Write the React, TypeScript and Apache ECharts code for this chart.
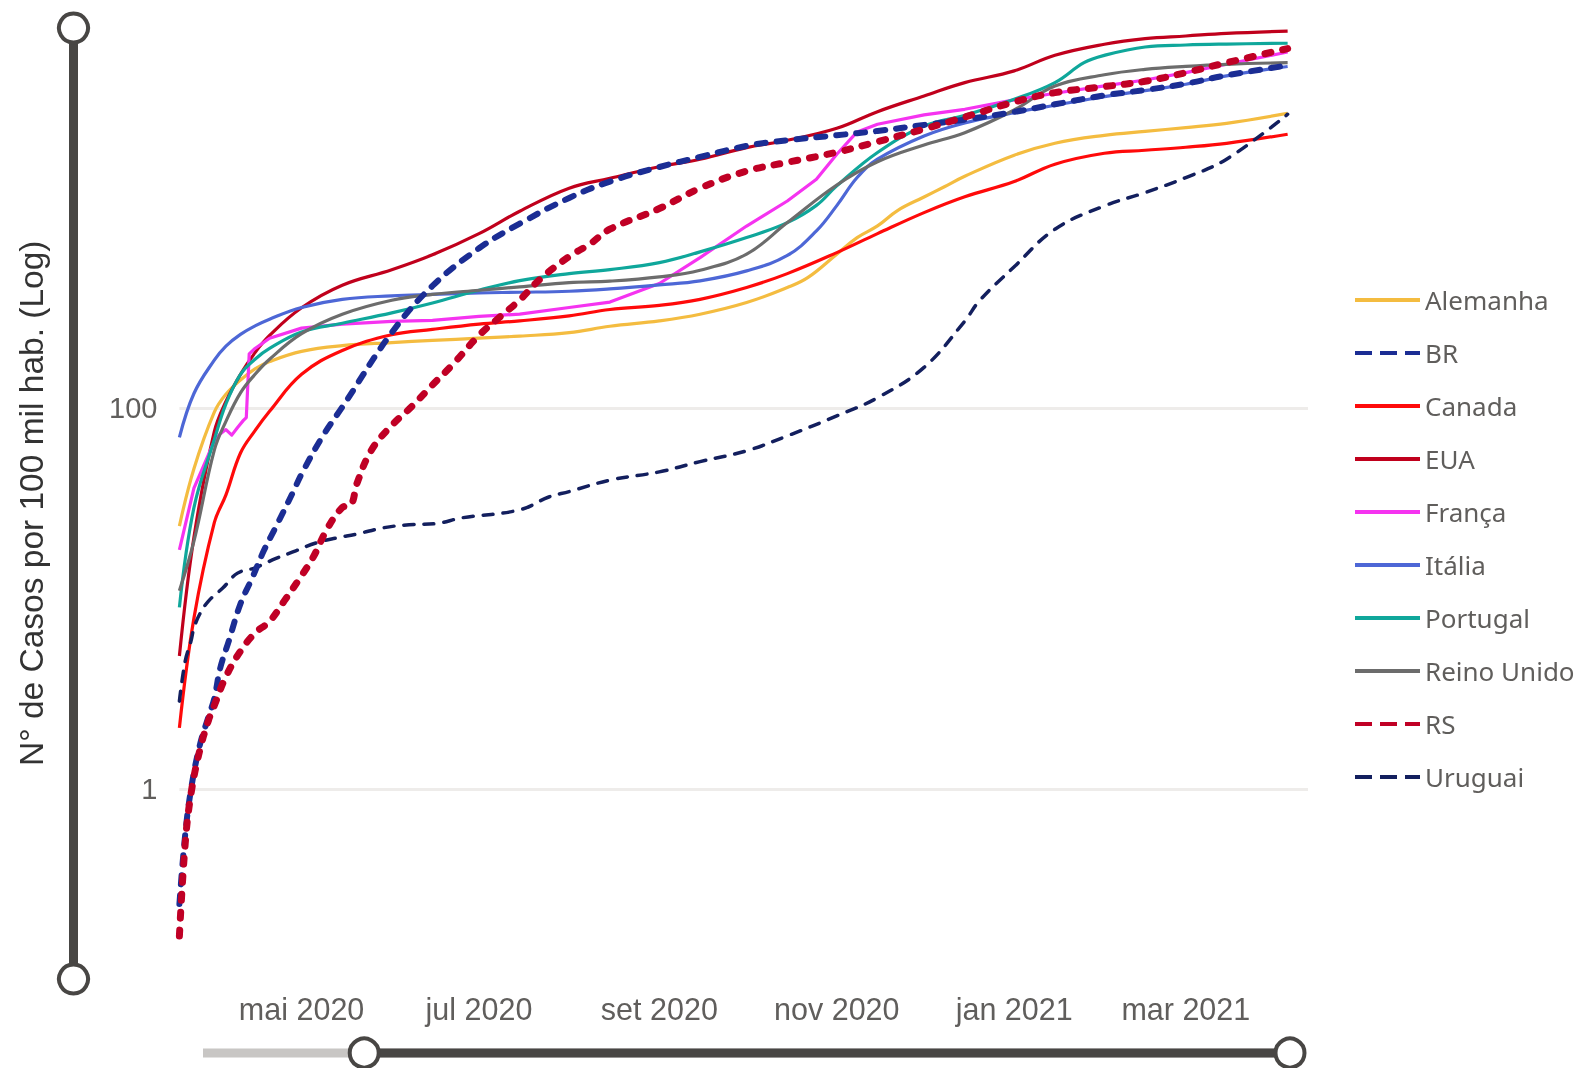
import React, { useEffect, useRef } from 'react';
import * as echarts from 'echarts';

const seriesNames = ['Alemanha', 'BR', 'Canada', 'EUA', 'França', 'Itália', 'Portugal', 'Reino Unido', 'RS', 'Uruguai'];
const monthLabels = ['jan', 'fev', 'mar', 'abr', 'mai', 'jun', 'jul', 'ago', 'set', 'out', 'nov', 'dez'];
const yTickLabels = [1, 100];
const yAxisTitle = 'N° de Casos por 100 mil hab. (Log)';

type P = [string, number];

const alemanha: P[] = [
  ['2020-03-20', 24], ['2020-03-25', 48], ['2020-04-01', 95], ['2020-04-05', 118], ['2020-04-10', 140],
  ['2020-04-15', 160], ['2020-04-20', 175], ['2020-05-01', 198], ['2020-05-15', 212], ['2020-06-01', 220],
  ['2020-06-15', 226], ['2020-07-01', 232], ['2020-07-15', 238], ['2020-08-01', 248], ['2020-08-15', 268],
  ['2020-09-01', 286], ['2020-09-15', 310], ['2020-10-01', 357], ['2020-10-15', 428], ['2020-10-22', 482],
  ['2020-11-01', 640], ['2020-11-08', 782], ['2020-11-15', 900], ['2020-11-22', 1087], ['2020-12-01', 1277],
  ['2020-12-08', 1445], ['2020-12-15', 1640], ['2021-01-01', 2114], ['2021-01-15', 2443], ['2021-02-01', 2687],
  ['2021-02-15', 2820], ['2021-03-01', 2950], ['2021-03-15', 3107], ['2021-04-05', 3508],
];

const br: P[] = [
  ['2020-03-20', 0.25], ['2020-03-22', 0.58], ['2020-03-24', 1.0], ['2020-03-27', 1.7], ['2020-03-30', 2.4],
  ['2020-04-01', 3.0], ['2020-04-03', 4.3], ['2020-04-06', 6.0], ['2020-04-10', 9.4], ['2020-04-14', 12.8],
  ['2020-04-18', 17.8], ['2020-04-22', 23.5], ['2020-04-28', 36], ['2020-05-01', 45], ['2020-05-08', 70],
  ['2020-05-15', 101], ['2020-06-01', 248], ['2020-06-15', 436], ['2020-07-01', 687], ['2020-07-15', 925],
  ['2020-08-01', 1262], ['2020-08-15', 1538], ['2020-09-01', 1833], ['2020-09-15', 2070], ['2020-10-01', 2366],
  ['2020-10-15', 2531], ['2020-11-01', 2690], ['2020-11-15', 2833], ['2020-12-01', 3046], ['2020-12-15', 3250],
  ['2021-01-01', 3565], ['2021-01-15', 3908], ['2021-02-01', 4355], ['2021-02-15', 4645], ['2021-03-01', 5015],
  ['2021-03-15', 5545], ['2021-04-05', 6250],
];

const canada: P[] = [
  ['2020-03-20', 2.1], ['2020-03-25', 7.9], ['2020-04-01', 25], ['2020-04-05', 35], ['2020-04-10', 58],
  ['2020-04-15', 76], ['2020-04-20', 96], ['2020-05-01', 150], ['2020-05-15', 200], ['2020-06-01', 242],
  ['2020-06-15', 258], ['2020-07-01', 275], ['2020-07-15', 286], ['2020-08-01', 304], ['2020-08-15', 328],
  ['2020-09-01', 345], ['2020-09-15', 371], ['2020-10-01', 428], ['2020-10-15', 506], ['2020-11-01', 652],
  ['2020-11-15', 820], ['2020-12-01', 1057], ['2020-12-15', 1280], ['2021-01-01', 1538], ['2021-01-15', 1897],
  ['2021-02-01', 2165], ['2021-02-15', 2244], ['2021-03-01', 2327], ['2021-03-15', 2440], ['2021-04-05', 2724],
];

const eua: P[] = [
  ['2020-03-20', 5], ['2020-03-25', 21], ['2020-04-01', 75], ['2020-04-05', 108], ['2020-04-10', 150],
  ['2020-04-15', 195], ['2020-04-20', 240], ['2020-05-01', 335], ['2020-05-15', 440], ['2020-06-01', 530],
  ['2020-06-15', 635], ['2020-07-01', 820], ['2020-07-15', 1075], ['2020-08-01', 1420], ['2020-08-15', 1600],
  ['2020-09-01', 1840], ['2020-09-15', 2013], ['2020-10-01', 2317], ['2020-10-15', 2531], ['2020-11-01', 2924],
  ['2020-11-15', 3577], ['2020-12-01', 4325], ['2020-12-15', 5080], ['2021-01-01', 5850], ['2021-01-15', 7065],
  ['2021-02-01', 8070], ['2021-02-15', 8640], ['2021-03-01', 8917], ['2021-03-15', 9205], ['2021-04-05', 9465],
];

const franca: P[] = [
  ['2020-03-20', 18], ['2020-03-25', 38], ['2020-04-01', 67], ['2020-04-03', 73], ['2020-04-05', 77],
  ['2020-04-07', 72], ['2020-04-09', 79], ['2020-04-11', 86], ['2020-04-12', 89], ['2020-04-13', 192],
  ['2020-04-15', 205], ['2020-04-20', 232], ['2020-05-01', 262], ['2020-05-15', 275], ['2020-06-01', 284],
  ['2020-06-15', 288], ['2020-07-01', 302], ['2020-07-15', 310], ['2020-08-01', 336], ['2020-08-15', 359],
  ['2020-09-01', 449], ['2020-09-15', 614], ['2020-10-01', 899], ['2020-10-15', 1216], ['2020-10-25', 1582],
  ['2020-11-01', 2138], ['2020-11-08', 2800], ['2020-11-15', 3070], ['2020-12-01', 3438], ['2020-12-15', 3680],
  ['2021-01-01', 4120], ['2021-01-15', 4467], ['2021-02-01', 4878], ['2021-02-15', 5244], ['2021-03-01', 5730],
  ['2021-03-15', 6338], ['2021-04-05', 7350],
];

const italia: P[] = [
  ['2020-03-20', 70], ['2020-03-25', 119], ['2020-04-01', 178], ['2020-04-05', 211], ['2020-04-10', 243],
  ['2020-04-15', 269], ['2020-04-20', 292], ['2020-05-01', 336], ['2020-05-15', 371], ['2020-06-01', 387],
  ['2020-06-15', 394], ['2020-07-01', 401], ['2020-07-15', 404], ['2020-08-01', 409], ['2020-08-15', 421],
  ['2020-09-01', 442], ['2020-09-15', 464], ['2020-10-01', 523], ['2020-10-15', 630], ['2020-10-25', 847],
  ['2020-11-01', 1150], ['2020-11-08', 1614], ['2020-11-15', 2014], ['2020-12-01', 2666], ['2020-12-15', 3120],
  ['2021-01-01', 3532], ['2021-01-15', 3862], ['2021-02-01', 4290], ['2021-02-15', 4610], ['2021-03-01', 4980],
  ['2021-03-15', 5510], ['2021-04-05', 6170],
];

const portugal: P[] = [
  ['2020-03-20', 9], ['2020-03-25', 30], ['2020-04-01', 68], ['2020-04-05', 105], ['2020-04-10', 150],
  ['2020-04-15', 180], ['2020-04-20', 205], ['2020-05-01', 250], ['2020-05-15', 278], ['2020-06-01', 315],
  ['2020-06-15', 355], ['2020-07-01', 414], ['2020-07-15', 465], ['2020-08-01', 506], ['2020-08-15', 531],
  ['2020-09-01', 578], ['2020-09-15', 658], ['2020-10-01', 782], ['2020-10-15', 937], ['2020-10-25', 1153],
  ['2020-11-01', 1459], ['2020-11-15', 2183], ['2020-12-01', 3006], ['2020-12-15', 3420], ['2021-01-01', 4150],
  ['2021-01-15', 5080], ['2021-01-25', 6460], ['2021-02-01', 7060], ['2021-02-15', 7810], ['2021-03-01', 8000],
  ['2021-03-15', 8090], ['2021-04-05', 8170],
];

const reinoUnido: P[] = [
  ['2020-03-20', 11], ['2020-03-25', 20], ['2020-04-01', 60], ['2020-04-05', 85], ['2020-04-10', 120],
  ['2020-04-15', 150], ['2020-04-20', 180], ['2020-05-01', 245], ['2020-05-15', 310], ['2020-06-01', 367],
  ['2020-06-15', 394], ['2020-07-01', 414], ['2020-07-15', 431], ['2020-08-01', 454], ['2020-08-15', 462],
  ['2020-09-01', 486], ['2020-09-15', 527], ['2020-10-01', 640], ['2020-10-15', 937], ['2020-11-01', 1476],
  ['2020-11-15', 1954], ['2020-12-01', 2393], ['2020-12-15', 2775], ['2021-01-01', 3648], ['2021-01-15', 4876],
  ['2021-02-01', 5585], ['2021-02-15', 5960], ['2021-03-01', 6180], ['2021-03-15', 6335], ['2021-04-05', 6460],
];

const rs: P[] = [
  ['2020-03-20', 0.17], ['2020-03-22', 0.52], ['2020-03-24', 0.95], ['2020-03-27', 1.6], ['2020-03-30', 2.3],
  ['2020-04-01', 2.75], ['2020-04-05', 3.9], ['2020-04-10', 5.3], ['2020-04-15', 6.6], ['2020-04-20', 7.6],
  ['2020-04-25', 9.7], ['2020-05-01', 13.2], ['2020-05-05', 16.5], ['2020-05-10', 23.5], ['2020-05-15', 30],
  ['2020-05-18', 31], ['2020-05-20', 40], ['2020-05-25', 60], ['2020-06-01', 81], ['2020-06-08', 102],
  ['2020-06-15', 132], ['2020-06-22', 169], ['2020-07-01', 240], ['2020-07-08', 298], ['2020-07-15', 368],
  ['2020-07-22', 473], ['2020-08-01', 622], ['2020-08-08', 721], ['2020-08-15', 865], ['2020-09-01', 1110],
  ['2020-09-15', 1420], ['2020-10-01', 1746], ['2020-10-15', 1940], ['2020-11-01', 2190], ['2020-11-15', 2490],
  ['2020-12-01', 2900], ['2020-12-15', 3350], ['2021-01-01', 4018], ['2021-01-15', 4500], ['2021-02-01', 4840],
  ['2021-02-15', 5160], ['2021-03-01', 5730], ['2021-03-15', 6460], ['2021-04-05', 7660],
];

const uruguai: P[] = [
  ['2020-03-20', 2.9], ['2020-03-22', 4.7], ['2020-03-24', 6.0], ['2020-03-25', 7.0], ['2020-03-27', 8.3],
  ['2020-03-30', 9.7], ['2020-04-04', 11.4], ['2020-04-09', 13.6], ['2020-04-15', 14.5], ['2020-04-22', 16.2],
  ['2020-04-29', 17.8], ['2020-05-06', 19.6], ['2020-05-13', 20.8], ['2020-05-20', 21.8], ['2020-05-29', 23.5],
  ['2020-06-07', 24.4], ['2020-06-16', 24.7], ['2020-06-25', 26.5], ['2020-07-15', 29.2], ['2020-07-25', 34.1],
  ['2020-08-01', 36.4], ['2020-08-15', 41.8], ['2020-09-01', 46.2], ['2020-09-15', 52.3], ['2020-10-01', 59.6],
  ['2020-10-15', 71.3], ['2020-11-01', 90.8], ['2020-11-15', 113], ['2020-12-01', 163], ['2020-12-15', 285],
  ['2020-12-20', 364], ['2021-01-01', 550], ['2021-01-15', 865], ['2021-02-01', 1146], ['2021-02-15', 1346],
  ['2021-03-01', 1614], ['2021-03-15', 2015], ['2021-04-05', 3467],
];

const seriesData: Record<string, P[]> = {
  Alemanha: alemanha, BR: br, Canada: canada, EUA: eua, 'França': franca,
  'Itália': italia, Portugal: portugal, 'Reino Unido': reinoUnido, RS: rs, Uruguai: uruguai,
};

const styles: Record<string, { color: string; width: number; dash: number[] | null; z: number; smooth: number }> = {
  Alemanha: { color: '#F4BC40', width: 3.2, dash: null, z: 2, smooth: 0.4 },
  BR: { color: '#1B2D94', width: 6, dash: [9, 11], z: 4, smooth: 0.4 },
  Canada: { color: '#FF0A0A', width: 3.2, dash: null, z: 2, smooth: 0.4 },
  EUA: { color: '#C0001C', width: 3.2, dash: null, z: 2, smooth: 0.4 },
  'França': { color: '#F533F0', width: 3.2, dash: null, z: 2, smooth: 0 },
  'Itália': { color: '#4D67D6', width: 3.2, dash: null, z: 2, smooth: 0.4 },
  Portugal: { color: '#0FA79B', width: 3.2, dash: null, z: 2, smooth: 0.4 },
  'Reino Unido': { color: '#6C6C6C', width: 3.2, dash: null, z: 2, smooth: 0.4 },
  RS: { color: '#C00025', width: 7, dash: [6, 12], z: 5, smooth: 0.4 },
  Uruguai: { color: '#131F5E', width: 3.5, dash: [10, 10], z: 3, smooth: 0.4 },
};

const T = (y: number, m: number, d: number) => new Date(y, m, d).getTime();

export default function App() {
  const ref = useRef<HTMLDivElement>(null);
  useEffect(() => {
    const chart = echarts.init(ref.current!, null, { renderer: 'svg' });
    const sliderCommon = {
      type: 'slider',
      filterMode: 'none',
      backgroundColor: '#C8C6C4',
      borderColor: 'transparent',
      borderRadius: 4.5,
      fillerColor: '#484644',
      dataBackground: { lineStyle: { opacity: 0 }, areaStyle: { opacity: 0 } },
      selectedDataBackground: { lineStyle: { opacity: 0 }, areaStyle: { opacity: 0 } },
      showDataShadow: false,
      showDetail: false,
      brushSelect: false,
      handleIcon: 'circle',
      handleSize: 29,
      handleStyle: { color: '#FFFFFF', borderColor: '#484644', borderWidth: 4 },
      moveHandleSize: 0,
      moveHandleStyle: { opacity: 0 },
      emphasis: {
        handleStyle: { color: '#FFFFFF', borderColor: '#484644', borderWidth: 4 },
        moveHandleStyle: { opacity: 0 },
      },
    };
    const option: any = {
      animation: false,
      grid: { left: 179.4, top: 26.5, width: 1128.6, height: 953.5, containLabel: false },
      xAxis: {
        type: 'time',
        min: T(2020, 0, 13),
        max: T(2021, 3, 12),
        axisLine: { show: false },
        axisTick: { show: false },
        splitLine: { show: false },
        axisLabel: {
          formatter: (v: number) => {
            const d = new Date(v);
            return monthLabels[d.getMonth()] + ' ' + d.getFullYear();
          },
          fontFamily: 'Liberation Sans, Arial, sans-serif',
          fontSize: 30.5,
          color: '#605E5C',
          margin: 13,
        },
      },
      yAxis: {
        type: 'log',
        logBase: 100,
        min: 0.1,
        max: 10000,
        splitNumber: 2,
        axisLine: { show: false },
        axisTick: { show: false },
        axisLabel: {
          formatter: (v: number) => {
            const hit = yTickLabels.find((t) => Math.abs(v - t) / t < 1e-6);
            return hit !== undefined ? String(hit) : '';
          },
          fontFamily: 'Liberation Sans, Arial, sans-serif',
          fontSize: 29,
          color: '#605E5C',
          margin: 22,
        },
        splitLine: {
          show: true,
          showMinLine: false,
          showMaxLine: false,
          lineStyle: { color: '#EEECEA', width: 3 },
        },
        name: yAxisTitle,
        nameLocation: 'middle',
        nameRotate: 90,
        nameGap: 131,
        nameTextStyle: {
          fontFamily: 'Liberation Sans, Arial, sans-serif',
          fontSize: 33.5,
          color: '#333333',
        },
      },
      legend: {
        orient: 'vertical',
        left: 1353,
        top: 287,
        padding: 0,
        itemWidth: 65,
        itemHeight: 14,
        itemGap: 27,
        selectedMode: false,
        textStyle: { fontFamily: 'Noto Sans, sans-serif', fontSize: 26, color: '#605E5C', lineHeight: 26 },
        data: seriesNames.map((n) => ({
          name: n,
          itemStyle: { color: styles[n].color, opacity: 0, borderWidth: 0 },
          lineStyle: {
            color: styles[n].color,
            width: 4,
            type: styles[n].dash ? [17, 8] : 'solid',
            cap: 'butt',
            opacity: 1,
          },
        })),
      },
      dataZoom: [
        {
          ...sliderCommon,
          xAxisIndex: 0,
          startValue: T(2020, 2, 20),
          endValue: T(2021, 3, 12),
          left: 200,
          width: 1088,
          top: 1048.5,
          height: 9,
        },
        {
          ...sliderCommon,
          yAxisIndex: 0,
          orient: 'vertical',
          start: 0,
          end: 100,
          left: 67,
          width: 9,
          top: 27,
          height: 953,
        },
      ],
      series: seriesNames.map((n) => ({
        name: n,
        type: 'line',
        data: seriesData[n],
        symbol: 'none',
        showSymbol: false,
        smooth: styles[n].smooth,
        z: styles[n].z,
        itemStyle: { color: styles[n].color },
        lineStyle: {
          color: styles[n].color,
          width: styles[n].width,
          type: styles[n].dash ? styles[n].dash : 'solid',
          cap: styles[n].dash ? 'round' : 'butt',
          join: 'round',
        },
        emphasis: { disabled: true },
      })),
    };
    chart.setOption(option);
    return () => chart.dispose();
  }, []);
  return <div ref={ref} style={{ position: 'fixed', left: 0, top: 0, width: 1580, height: 1068 }} />;
}
